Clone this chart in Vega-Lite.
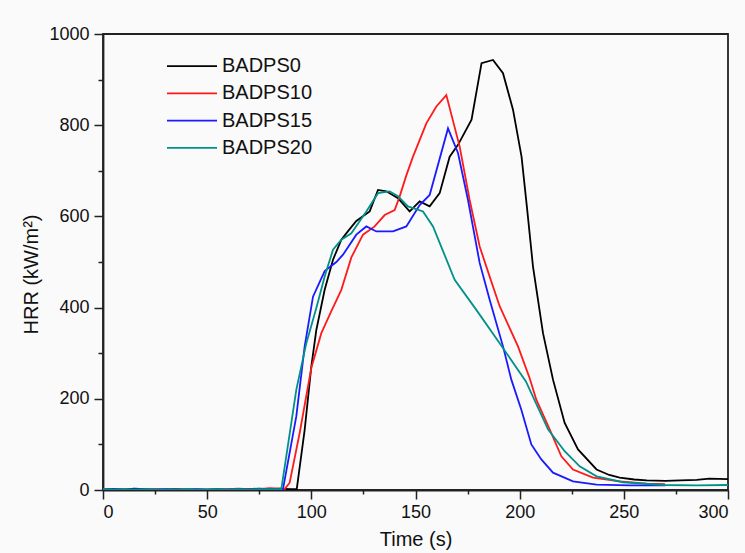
{
  "$schema": "https://vega.github.io/schema/vega-lite/v6.json",
  "width": 625,
  "height": 456,
  "autosize": {"type": "none"},
  "padding": {"left": 103, "top": 34, "right": 17, "bottom": 63},
  "background": "#fafafa",
  "config": {
    "view": {"stroke": "#222222", "strokeWidth": 1.8},
    "font": "Liberation Sans",
    "axis": {"domainColor": "#222222", "domainWidth": 1.8, "tickColor": "#222222", "tickWidth": 1.5, "grid": false, "labelFont": "Liberation Sans", "titleFont": "Liberation Sans", "labelColor": "#111111", "titleColor": "#111111", "labelFontSize": 18, "titleFontSize": 20, "titleFontWeight": "normal"}
  },
  "data": {"values": [
    {"t": 0, "v": 1, "s": "BADPS0"}, {"t": 5, "v": 2, "s": "BADPS0"}, {"t": 10, "v": 1, "s": "BADPS0"}, {"t": 15, "v": 3, "s": "BADPS0"}, {"t": 20, "v": 2, "s": "BADPS0"}, {"t": 25, "v": 1, "s": "BADPS0"}, {"t": 30, "v": 1, "s": "BADPS0"}, {"t": 35, "v": 2, "s": "BADPS0"}, {"t": 40, "v": 1, "s": "BADPS0"}, {"t": 45, "v": 1, "s": "BADPS0"}, {"t": 50, "v": 1, "s": "BADPS0"}, {"t": 55, "v": 2, "s": "BADPS0"}, {"t": 60, "v": 1, "s": "BADPS0"}, {"t": 65, "v": 1, "s": "BADPS0"}, {"t": 70, "v": 2, "s": "BADPS0"}, {"t": 75, "v": 3, "s": "BADPS0"}, {"t": 80, "v": 2, "s": "BADPS0"}, {"t": 85, "v": 3, "s": "BADPS0"}, {"t": 90, "v": 2, "s": "BADPS0"}, {"t": 93, "v": 2, "s": "BADPS0"},
    {"t": 96.8, "v": 132, "s": "BADPS0"}, {"t": 100, "v": 271, "s": "BADPS0"}, {"t": 102.4, "v": 351, "s": "BADPS0"}, {"t": 106.4, "v": 439, "s": "BADPS0"}, {"t": 110.4, "v": 505, "s": "BADPS0"}, {"t": 114.4, "v": 549, "s": "BADPS0"}, {"t": 118, "v": 570, "s": "BADPS0"}, {"t": 121.6, "v": 590, "s": "BADPS0"}, {"t": 125.6, "v": 603, "s": "BADPS0"}, {"t": 128, "v": 611, "s": "BADPS0"}, {"t": 132, "v": 658, "s": "BADPS0"}, {"t": 136, "v": 655, "s": "BADPS0"}, {"t": 141.6, "v": 640, "s": "BADPS0"}, {"t": 147.2, "v": 611, "s": "BADPS0"}, {"t": 152, "v": 633, "s": "BADPS0"}, {"t": 156.8, "v": 622, "s": "BADPS0"}, {"t": 161.6, "v": 651, "s": "BADPS0"}, {"t": 166.4, "v": 731, "s": "BADPS0"}, {"t": 170.4, "v": 757, "s": "BADPS0"}, {"t": 176.9, "v": 812, "s": "BADPS0"}, {"t": 181.7, "v": 936, "s": "BADPS0"}, {"t": 187.2, "v": 943, "s": "BADPS0"}, {"t": 192, "v": 914, "s": "BADPS0"}, {"t": 196.8, "v": 834, "s": "BADPS0"}, {"t": 200.9, "v": 731, "s": "BADPS0"}, {"t": 203.5, "v": 620, "s": "BADPS0"}, {"t": 206.4, "v": 490, "s": "BADPS0"}, {"t": 211.2, "v": 344, "s": "BADPS0"}, {"t": 216, "v": 242, "s": "BADPS0"}, {"t": 221.6, "v": 147, "s": "BADPS0"}, {"t": 228, "v": 89, "s": "BADPS0"}, {"t": 236.9, "v": 45, "s": "BADPS0"}, {"t": 243, "v": 33, "s": "BADPS0"}, {"t": 248, "v": 27, "s": "BADPS0"}, {"t": 255, "v": 23, "s": "BADPS0"}, {"t": 261, "v": 21, "s": "BADPS0"}, {"t": 270, "v": 20, "s": "BADPS0"}, {"t": 277, "v": 21, "s": "BADPS0"}, {"t": 285, "v": 22, "s": "BADPS0"}, {"t": 291, "v": 25, "s": "BADPS0"}, {"t": 300, "v": 24, "s": "BADPS0"},

    {"t": 0, "v": 2, "s": "BADPS10"}, {"t": 5, "v": 1, "s": "BADPS10"}, {"t": 10, "v": 2, "s": "BADPS10"}, {"t": 15, "v": 1, "s": "BADPS10"}, {"t": 20, "v": 1, "s": "BADPS10"}, {"t": 25, "v": 2, "s": "BADPS10"}, {"t": 30, "v": 1, "s": "BADPS10"}, {"t": 35, "v": 1, "s": "BADPS10"}, {"t": 40, "v": 2, "s": "BADPS10"}, {"t": 45, "v": 1, "s": "BADPS10"}, {"t": 50, "v": 1, "s": "BADPS10"}, {"t": 55, "v": 1, "s": "BADPS10"}, {"t": 60, "v": 2, "s": "BADPS10"}, {"t": 65, "v": 3, "s": "BADPS10"}, {"t": 70, "v": 2, "s": "BADPS10"}, {"t": 75, "v": 2, "s": "BADPS10"}, {"t": 80, "v": 4, "s": "BADPS10"}, {"t": 85, "v": 3, "s": "BADPS10"}, {"t": 87.2, "v": 2, "s": "BADPS10"},
    {"t": 89.6, "v": 16, "s": "BADPS10"}, {"t": 94.4, "v": 125, "s": "BADPS10"}, {"t": 100, "v": 268, "s": "BADPS10"}, {"t": 104.8, "v": 344, "s": "BADPS10"}, {"t": 109.6, "v": 392, "s": "BADPS10"}, {"t": 114.4, "v": 439, "s": "BADPS10"}, {"t": 119.2, "v": 510, "s": "BADPS10"}, {"t": 124.8, "v": 560, "s": "BADPS10"}, {"t": 130.4, "v": 578, "s": "BADPS10"}, {"t": 135.2, "v": 603, "s": "BADPS10"}, {"t": 140, "v": 614, "s": "BADPS10"}, {"t": 142.4, "v": 644, "s": "BADPS10"}, {"t": 145.6, "v": 690, "s": "BADPS10"}, {"t": 148.8, "v": 731, "s": "BADPS10"}, {"t": 155.2, "v": 804, "s": "BADPS10"}, {"t": 160, "v": 841, "s": "BADPS10"}, {"t": 164.8, "v": 866, "s": "BADPS10"}, {"t": 171.2, "v": 753, "s": "BADPS10"}, {"t": 176, "v": 636, "s": "BADPS10"}, {"t": 180.8, "v": 534, "s": "BADPS10"}, {"t": 185.6, "v": 468, "s": "BADPS10"}, {"t": 190.4, "v": 403, "s": "BADPS10"}, {"t": 199.2, "v": 315, "s": "BADPS10"}, {"t": 204.8, "v": 245, "s": "BADPS10"}, {"t": 208, "v": 198, "s": "BADPS10"}, {"t": 214.4, "v": 133, "s": "BADPS10"}, {"t": 220, "v": 74, "s": "BADPS10"}, {"t": 225.6, "v": 45, "s": "BADPS10"}, {"t": 235.2, "v": 27, "s": "BADPS10"}, {"t": 248, "v": 19, "s": "BADPS10"}, {"t": 260.9, "v": 14, "s": "BADPS10"}, {"t": 269.7, "v": 13, "s": "BADPS10"},

    {"t": 0, "v": 1, "s": "BADPS15"}, {"t": 5, "v": 2, "s": "BADPS15"}, {"t": 10, "v": 1, "s": "BADPS15"}, {"t": 15, "v": 2, "s": "BADPS15"}, {"t": 20, "v": 1, "s": "BADPS15"}, {"t": 25, "v": 1, "s": "BADPS15"}, {"t": 30, "v": 2, "s": "BADPS15"}, {"t": 35, "v": 1, "s": "BADPS15"}, {"t": 40, "v": 1, "s": "BADPS15"}, {"t": 45, "v": 2, "s": "BADPS15"}, {"t": 50, "v": 1, "s": "BADPS15"}, {"t": 55, "v": 1, "s": "BADPS15"}, {"t": 60, "v": 1, "s": "BADPS15"}, {"t": 65, "v": 2, "s": "BADPS15"}, {"t": 70, "v": 1, "s": "BADPS15"}, {"t": 75, "v": 2, "s": "BADPS15"}, {"t": 80, "v": 2, "s": "BADPS15"}, {"t": 84, "v": 2, "s": "BADPS15"}, {"t": 86.4, "v": 2, "s": "BADPS15"},
    {"t": 92.8, "v": 162, "s": "BADPS15"}, {"t": 96.8, "v": 315, "s": "BADPS15"}, {"t": 100.8, "v": 424, "s": "BADPS15"}, {"t": 106.4, "v": 480, "s": "BADPS15"}, {"t": 112, "v": 500, "s": "BADPS15"}, {"t": 115.2, "v": 516, "s": "BADPS15"}, {"t": 121.6, "v": 560, "s": "BADPS15"}, {"t": 126.4, "v": 578, "s": "BADPS15"}, {"t": 131.2, "v": 567, "s": "BADPS15"}, {"t": 139.2, "v": 567, "s": "BADPS15"}, {"t": 145.6, "v": 578, "s": "BADPS15"}, {"t": 152, "v": 625, "s": "BADPS15"}, {"t": 156.8, "v": 647, "s": "BADPS15"}, {"t": 165.6, "v": 793, "s": "BADPS15"}, {"t": 170.4, "v": 739, "s": "BADPS15"}, {"t": 175.2, "v": 636, "s": "BADPS15"}, {"t": 180.8, "v": 498, "s": "BADPS15"}, {"t": 185.6, "v": 417, "s": "BADPS15"}, {"t": 192, "v": 315, "s": "BADPS15"}, {"t": 196, "v": 242, "s": "BADPS15"}, {"t": 200.8, "v": 176, "s": "BADPS15"}, {"t": 205.6, "v": 100, "s": "BADPS15"}, {"t": 210.4, "v": 67, "s": "BADPS15"}, {"t": 216, "v": 38, "s": "BADPS15"}, {"t": 225.6, "v": 19, "s": "BADPS15"}, {"t": 236.9, "v": 12, "s": "BADPS15"}, {"t": 252.8, "v": 10, "s": "BADPS15"}, {"t": 270, "v": 10, "s": "BADPS15"},

    {"t": 0, "v": 2, "s": "BADPS20"}, {"t": 5, "v": 1, "s": "BADPS20"}, {"t": 10, "v": 2, "s": "BADPS20"}, {"t": 15, "v": 1, "s": "BADPS20"}, {"t": 20, "v": 2, "s": "BADPS20"}, {"t": 25, "v": 1, "s": "BADPS20"}, {"t": 30, "v": 1, "s": "BADPS20"}, {"t": 35, "v": 1, "s": "BADPS20"}, {"t": 40, "v": 2, "s": "BADPS20"}, {"t": 45, "v": 1, "s": "BADPS20"}, {"t": 50, "v": 1, "s": "BADPS20"}, {"t": 55, "v": 2, "s": "BADPS20"}, {"t": 60, "v": 1, "s": "BADPS20"}, {"t": 65, "v": 2, "s": "BADPS20"}, {"t": 70, "v": 1, "s": "BADPS20"}, {"t": 75, "v": 2, "s": "BADPS20"}, {"t": 80, "v": 2, "s": "BADPS20"}, {"t": 85.6, "v": 2, "s": "BADPS20"},
    {"t": 92.8, "v": 220, "s": "BADPS20"}, {"t": 97.6, "v": 322, "s": "BADPS20"}, {"t": 102.4, "v": 399, "s": "BADPS20"}, {"t": 106.4, "v": 468, "s": "BADPS20"}, {"t": 110.4, "v": 527, "s": "BADPS20"}, {"t": 114.4, "v": 549, "s": "BADPS20"}, {"t": 119.2, "v": 563, "s": "BADPS20"}, {"t": 126.4, "v": 611, "s": "BADPS20"}, {"t": 132, "v": 651, "s": "BADPS20"}, {"t": 137.6, "v": 655, "s": "BADPS20"}, {"t": 141.6, "v": 644, "s": "BADPS20"}, {"t": 146.4, "v": 622, "s": "BADPS20"}, {"t": 153.6, "v": 611, "s": "BADPS20"}, {"t": 158.4, "v": 578, "s": "BADPS20"}, {"t": 168.8, "v": 461, "s": "BADPS20"}, {"t": 179.2, "v": 395, "s": "BADPS20"}, {"t": 190.4, "v": 322, "s": "BADPS20"}, {"t": 203, "v": 238, "s": "BADPS20"}, {"t": 213.6, "v": 133, "s": "BADPS20"}, {"t": 221.6, "v": 85, "s": "BADPS20"}, {"t": 228.8, "v": 52, "s": "BADPS20"}, {"t": 236.9, "v": 30, "s": "BADPS20"}, {"t": 249.6, "v": 17, "s": "BADPS20"}, {"t": 268.8, "v": 11, "s": "BADPS20"}, {"t": 285, "v": 10, "s": "BADPS20"}, {"t": 300, "v": 11, "s": "BADPS20"}
  ]},
  "resolve": {"axis": {"x": "independent", "y": "independent"}},
  "layer": [
    {
      "mark": {"type": "line", "opacity": 0},
      "encoding": {
        "x": {"field": "t", "type": "quantitative", "scale": {"domain": [0, 300], "nice": false, "zero": false},
              "axis": {"orient": "bottom", "values": [25, 75, 125, 175, 225, 275], "labels": false, "tickSize": 4, "domain": false, "title": null}},
        "y": {"field": "v", "type": "quantitative", "scale": {"domain": [0, 1000], "nice": false},
              "axis": {"orient": "left", "values": [100, 300, 500, 700, 900], "labels": false, "tickSize": 5, "domain": false, "title": null}},
        "detail": {"field": "s"}
      }
    },
    {
      "mark": {"type": "line", "strokeWidth": 1.8, "clip": true},
      "encoding": {
        "x": {"field": "t", "type": "quantitative", "scale": {"domain": [0, 300], "nice": false, "zero": false},
              "axis": {"orient": "bottom", "values": [0, 50, 100, 150, 200, 250, 300], "format": "d", "tickSize": 9, "labelPadding": 4, "title": "Time (s)", "titlePadding": 8}},
        "y": {"field": "v", "type": "quantitative", "scale": {"domain": [0, 1000], "nice": false},
              "axis": {"orient": "left", "values": [0, 200, 400, 600, 800, 1000], "format": "d", "tickSize": 9, "labelPadding": 5, "title": "HRR (kW/m²)", "titlePadding": 7, "titleY": 240}},
        "color": {"field": "s", "type": "nominal",
                  "scale": {"domain": ["BADPS0", "BADPS10", "BADPS15", "BADPS20"], "range": ["#000000", "#ff1a1a", "#1a1aff", "#00908a"]},
                  "legend": {"orient": "none", "legendX": 75.5, "legendY": 18.7, "title": null, "symbolType": "M-2,0H2", "symbolSize": 625, "symbolStrokeWidth": 1.8, "labelFontSize": 20, "labelFont": "Liberation Sans", "labelColor": "#111111", "labelOffset": 16.5, "rowPadding": 3.2}}
      }
    }
  ]
}
